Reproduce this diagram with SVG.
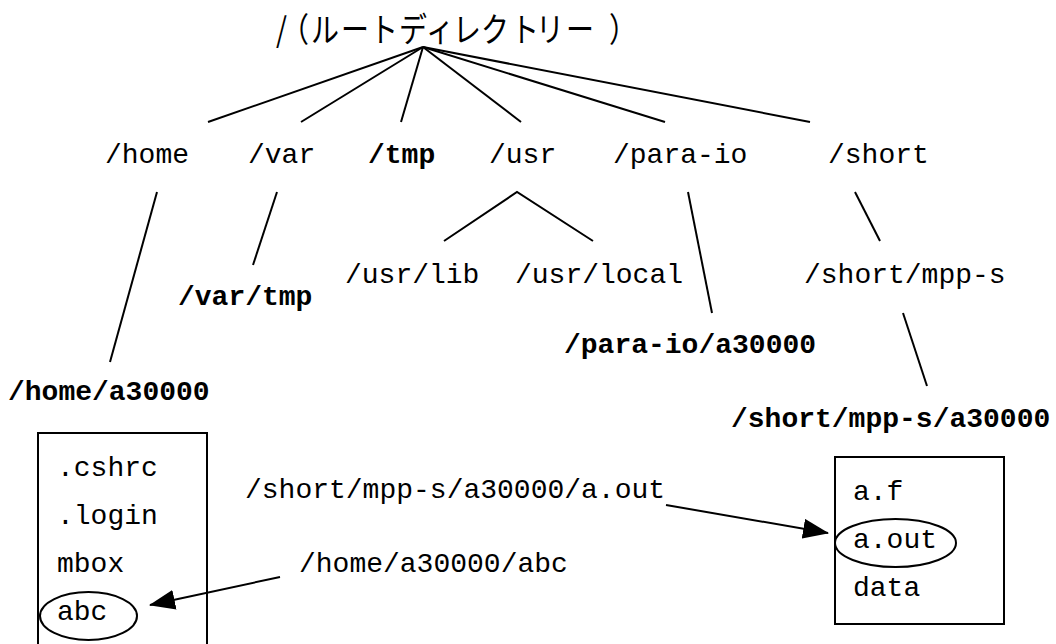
<svg xmlns="http://www.w3.org/2000/svg" width="1056" height="644" viewBox="0 0 1056 644">
  <style>
    .t { font-family: "Liberation Mono", "Courier New", monospace; font-size: 28px; fill: #000; }
    .b { font-weight: bold; }
    .jp { font-family: "Noto Sans CJK JP", "Noto Sans", sans-serif; font-size: 28px; fill: #000; }
    .ln { stroke: #000; stroke-width: 2; fill: none; }
    .box { stroke: #000; stroke-width: 2; fill: none; }
  </style>
  <defs>
    <marker id="head" viewBox="0 0 26 20" refX="25" refY="10" markerWidth="26" markerHeight="20" orient="auto" markerUnits="userSpaceOnUse">
      <path d="M0,0 L26,10 L0,20 Z" fill="#000"/>
    </marker>
  </defs>

  <rect width="1056" height="644" fill="#fff"/>

  <!-- tree branches and reference arrows -->
  <g id="connectors">
    <line class="ln" x1="423" y1="47" x2="208" y2="122"/>
    <line class="ln" x1="423" y1="47" x2="301" y2="122"/>
    <line class="ln" x1="423" y1="47" x2="401" y2="122"/>
    <line class="ln" x1="423" y1="47" x2="521" y2="122"/>
    <line class="ln" x1="423" y1="47" x2="665" y2="122"/>
    <line class="ln" x1="423" y1="47" x2="810" y2="122"/>
    <line class="ln" x1="157" y1="192" x2="110" y2="362"/>
    <line class="ln" x1="277" y1="192" x2="253" y2="265"/>
    <polyline class="ln" points="444,241 517,192 593,241"/>
    <line class="ln" x1="688" y1="192" x2="712" y2="313"/>
    <line class="ln" x1="855" y1="192" x2="880" y2="241"/>
    <line class="ln" x1="903" y1="313" x2="927" y2="386"/>
    <line class="ln" x1="280" y1="577" x2="150" y2="605" marker-end="url(#head)"/>
    <line class="ln" x1="666" y1="505" x2="828" y2="533" marker-end="url(#head)"/>
  </g>

  <!-- root directory label, glyphs placed one by one, slightly stretched vertically -->
  <g id="root" transform="translate(0,42) scale(1,1.2) translate(0,-42)">
    <text class="jp" y="42" x="276 281 311 341 370 399 426 453 481 511 536 566 609">/（ルートディレクトリー）</text>
  </g>

  <g id="home"><text class="t" x="105" y="163">/home</text></g>
  <g id="var"><text class="t" x="248" y="163">/var</text></g>
  <g id="tmp"><text class="t b" x="368" y="163">/tmp</text></g>
  <g id="usr"><text class="t" x="489" y="163">/usr</text></g>
  <g id="para-io"><text class="t" x="613" y="163">/para-io</text></g>
  <g id="short"><text class="t" x="828" y="163">/short</text></g>

  <g id="usr-lib"><text class="t" x="345" y="283">/usr/lib</text></g>
  <g id="usr-local"><text class="t" x="515" y="283">/usr/local</text></g>
  <g id="short-mpp-s"><text class="t" x="804" y="283">/short/mpp-s</text></g>
  <g id="var-tmp"><text class="t b" x="178" y="305">/var/tmp</text></g>
  <g id="para-io-a30000"><text class="t b" x="564" y="353">/para-io/a30000</text></g>
  <g id="home-a30000"><text class="t b" x="8" y="400">/home/a30000</text></g>
  <g id="short-mpp-s-a30000"><text class="t b" x="731" y="427">/short/mpp-s/a30000</text></g>

  <!-- contents of /home/a30000 -->
  <g id="home-box">
    <rect class="box" x="38" y="433" width="169" height="220"/>
    <text class="t" x="57" y="476">.cshrc</text>
    <text class="t" x="57" y="524">.login</text>
    <text class="t" x="57" y="572">mbox</text>
    <ellipse class="ln" cx="88.5" cy="616" rx="48.5" ry="24"/>
    <text class="t" x="57" y="620">abc</text>
  </g>

  <!-- contents of /short/mpp-s/a30000 -->
  <g id="mpp-box">
    <rect class="box" x="835" y="457" width="169" height="167"/>
    <text class="t" x="853" y="500">a.f</text>
    <ellipse class="ln" cx="895.5" cy="543" rx="60.5" ry="24"/>
    <text class="t" x="853" y="548">a.out</text>
    <text class="t" x="853" y="596">data</text>
  </g>

  <g id="label-aout"><text class="t" x="245" y="498">/short/mpp-s/a30000/a.out</text></g>
  <g id="label-abc"><text class="t" x="299" y="572">/home/a30000/abc</text></g>
</svg>
